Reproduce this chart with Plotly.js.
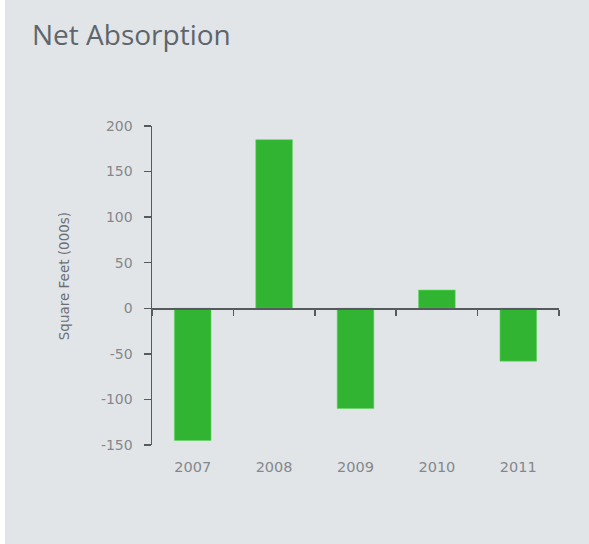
<!DOCTYPE html>
<html><head><meta charset="utf-8">
<script src="https://cdn.plot.ly/plotly-3.0.1.min.js"></script>
<style>html,body{margin:0;padding:0;background:#ffffff;}#chart{position:absolute;left:5px;top:0;width:584px;height:544px;}</style>
</head><body><div id="chart"></div>
<script>
const years = ['2007','2008','2009','2010','2011'];
const netAbsorption = [-145, 185, -110, 20, -58];
const yTicks = [-150,-100,-50,0,50,100,150,200];
const chartTitle = 'Net Absorption';
const yTitle = 'Square Feet (000s)';

const bg = '#e2e5e8';
const green = '#31b431';
const axisCol = '#555a5f';
const labelCol = '#84888c';
const fontFam = '"DejaVu Sans", "Liberation Sans", Arial, sans-serif';

const bars = {
  type:'bar', x: years, y: netAbsorption, marker:{color: green, line:{color:'#5ed85e', width:0.6}},
  hoverinfo:'x+y', xaxis:'x', yaxis:'y'
};
const ghost = {
  type:'bar', x: years, y: netAbsorption, marker:{color:'rgba(0,0,0,0)'},
  hoverinfo:'skip', xaxis:'x2', yaxis:'y', showlegend:false
};

const layout = {
  width:584, height:544,
  paper_bgcolor: bg, plot_bgcolor: bg,
  margin:{l:147, r:30, t:126, b:99},
  showlegend:false,
  bargap:0.55,
  title:{text: chartTitle, xref:'container', yref:'container', x:27/584, y:1-25/544, xanchor:'left', yanchor:'top',
         font:{family:'"Open Sans", "Liberation Sans", Arial, sans-serif', size:28, color:'#5f656c'}},
  xaxis:{type:'category', categoryarray: years, range:[-0.5,4.5], showline:false, ticks:'', showgrid:false, zeroline:false,
         tickfont:{family:fontFam, size:14.5, color:labelCol}, ticklabelstandoff:11},
  xaxis2:{type:'category', categoryarray: years, range:[-0.5,4.5], overlaying:'x', anchor:'free', position:150/350,
          showline:true, linecolor:axisCol, linewidth:1.5, ticks:'outside', tickson:'boundaries', ticklen:6, tickwidth:1.5,
          tickcolor:axisCol, showticklabels:false, showgrid:false, zeroline:false},
  yaxis:{range:[-150,200], tickvals: yTicks, ticktext: yTicks.map(String), showline:true, linecolor:axisCol, linewidth:1.5,
         ticks:'outside', ticklen:7, tickwidth:1.5, tickcolor:axisCol, showgrid:false, zeroline:false,
         tickfont:{family:fontFam, size:14, color:labelCol}, ticklabelstandoff:8},
  annotations:[{text: yTitle, textangle:-90, xref:'paper', yref:'paper', x:(59-147)/407, y:(444.5-276)/318.5,
                xanchor:'center', yanchor:'middle', showarrow:false,
                font:{family:fontFam, size:13.5, color:'#6c7075'}}]
};
Plotly.newPlot('chart', [ghost, bars], layout, {displayModeBar:false, staticPlot:true});
</script></body></html>
